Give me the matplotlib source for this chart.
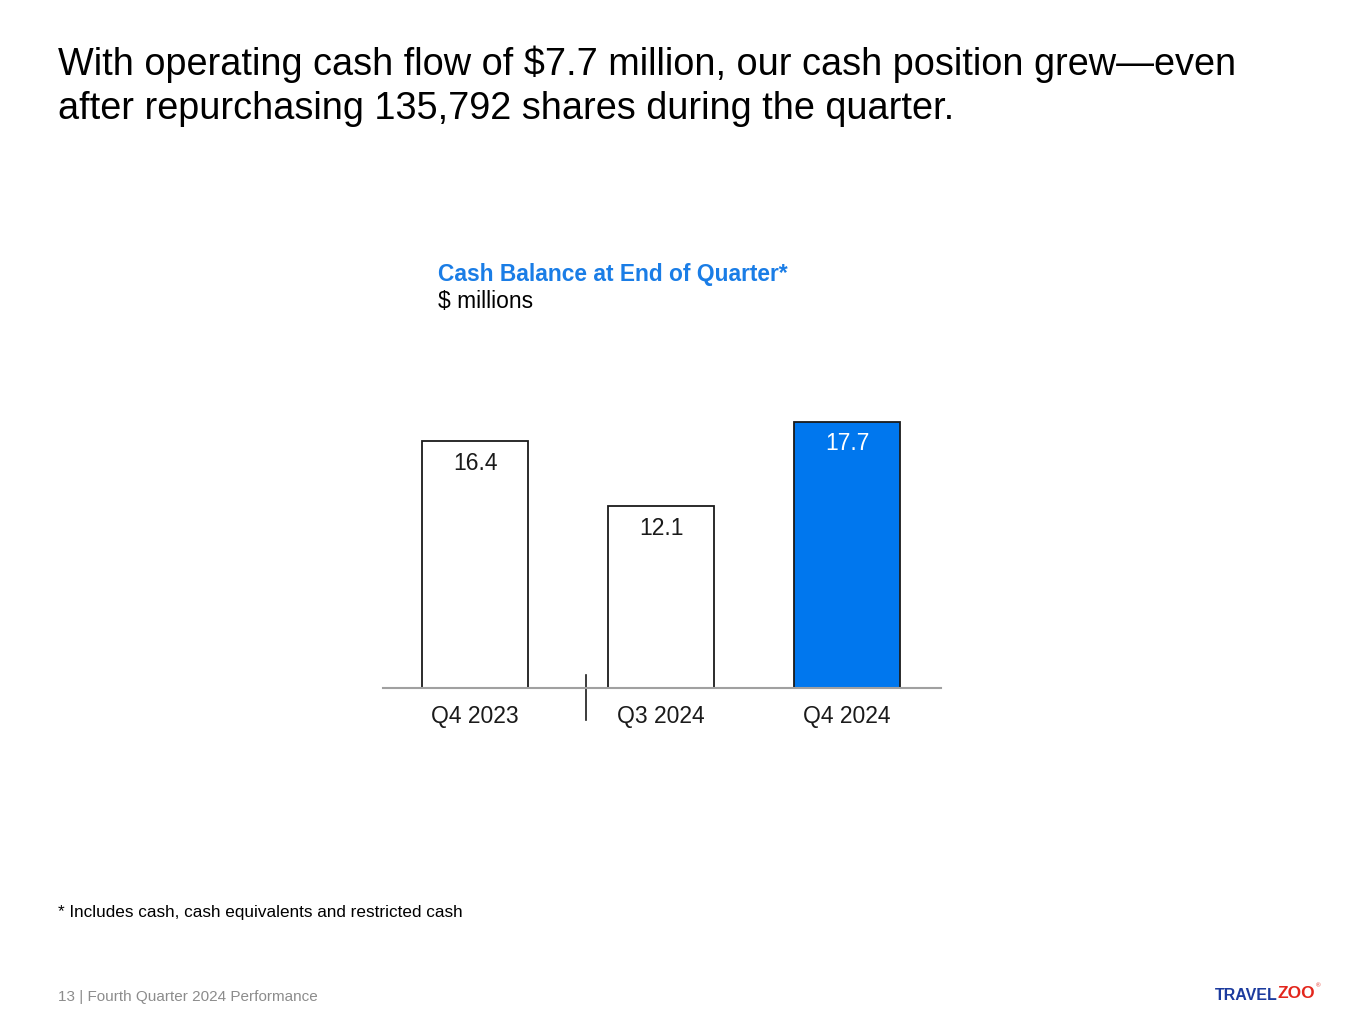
import matplotlib.pyplot as plt

plt.rcParams['font.family'] = ['Liberation Sans', 'DejaVu Sans']

# data
quarters = ['Q4 2023', 'Q3 2024', 'Q4 2024']
cash = [16.4, 12.1, 17.7]
labels = ['16.4', '12.1', '17.7']
fills = ['white', 'white', '#0077ee']
label_colors = ['#1a1a1a', '#1a1a1a', 'white']

fig = plt.figure(figsize=(13.65, 10.24), dpi=100)
fig.patch.set_facecolor('white')

# headline
fig.text(58/1365, 1 - 64/1024,
         'With operating cash flow of $7.7 million, our cash position grew\u2014even',
         fontsize=27.3, color='black', va='center', ha='left')
fig.text(58/1365, 1 - 109/1024,
         'after repurchasing 135,792 shares during the quarter.',
         fontsize=27.3, color='black', va='center', ha='left')

# chart title
fig.text(438/1365, 1 - 274/1024, 'Cash Balance at End of Quarter*',
         fontsize=16.4, fontweight='bold', color='#1a7de6', va='center', ha='left')
fig.text(438/1365, 1 - 301/1024, '$ millions',
         fontsize=16.4, color='black', va='center', ha='left')

# axes placed so that baseline sits at y=688px, x from 383 to 941
ax = fig.add_axes([383/1365, (1024 - 688)/1024, (941 - 383)/1365, 301/1024])
x = range(len(quarters))
bars = ax.bar(x, cash, width=0.57, color=fills, edgecolor='#1a1a1a', linewidth=1.3, zorder=2)
ax.set_xlim(-0.495, 2.505)
ax.set_ylim(0, 20)

for b, lab, c in zip(bars, labels, label_colors):
    ax.annotate(lab, (b.get_x() + b.get_width()/2, b.get_height()),
                xytext=(0, -16), textcoords='offset points',
                ha='center', va='center', fontsize=16.5, color=c)

ax.set_xticks(list(x))
ax.set_xticklabels(quarters, fontsize=16.5, color='#1a1a1a')
ax.tick_params(axis='x', length=0, pad=12)
ax.set_yticks([])
for s in ['top', 'right', 'left']:
    ax.spines[s].set_visible(False)
ax.spines['bottom'].set_color('#a0a0a0')
ax.spines['bottom'].set_linewidth(1.5)

# separator between years
ax.axvline(0.597, ymin=-32/301, ymax=13/301, color='#1a1a1a', linewidth=1.2, clip_on=False)

# footnote and footer
fig.text(58/1365, 1 - 913/1024, '* Includes cash, cash equivalents and restricted cash',
         fontsize=12.3, color='black', va='center', ha='left')
fig.text(58/1365, 1 - 997/1024, '13 | Fourth Quarter 2024 Performance',
         fontsize=11, color='#8c8c8c', va='center', ha='left')

# logo text
t = fig.text(1215/1365, 1 - 996/1024, 'TRAVEL', fontsize=11.5, fontweight='bold',
             color='#1c3b9e', va='center', ha='left')
fig.canvas.draw()
bb = t.get_window_extent()
t2 = fig.text(bb.x1/1365, 1 - 993/1024, 'ZOO', fontsize=12.5, fontweight='bold',
              color='#e3261c', va='center', ha='left')
fig.canvas.draw()
bb2 = t2.get_window_extent()
fig.text(bb2.x1/1365, 1 - 986/1024, '\u00ae', fontsize=4.5, color='#e3261c',
         va='center', ha='left')

fig.savefig('out.png', dpi=100, facecolor='white')
